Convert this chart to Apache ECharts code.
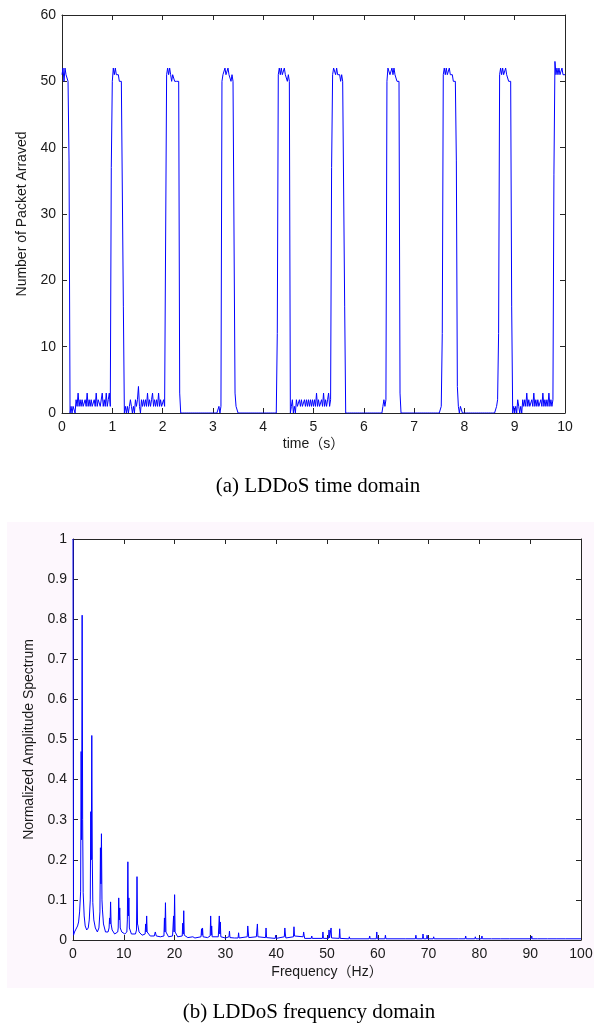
<!DOCTYPE html>
<html>
<head>
<meta charset="utf-8">
<script src="https://cdn.jsdelivr.net/npm/echarts@6/dist/echarts.min.js"></script>
<style>
  html, body { margin: 0; padding: 0; background: #fff; }
  #chart { width: 597px; height: 1025px; }
</style>
</head>
<body>
<div id="chart"></div>
<script>
// (a) packets arrived per 0.02 s slot, 0 s .. 10 s (501 samples, one row per second)
const slotSeconds = 0.02;
const packetsPerSlot = [
  51,52,50,52,51,51,50,38,0,1,0,1,1,0,2,1,3,1,2,1,2,1,1,2,1,3,1,2,1,2,1,1,2,1,3,1,2,2,1,1,3,1,2,1,3,1,2,3,1,37,
  50,52,51,52,51,51,51,50,50,50,50,16,0,1,0,1,0,1,2,1,0,1,0,2,1,2,4,1,0,2,1,2,1,2,1,3,1,2,1,2,3,1,2,1,2,1,3,1,2,1,
  1,2,1,1,51,52,51,52,51,50,51,51,50,50,50,50,50,3,0,0,0,0,0,0,0,0,0,0,0,0,0,0,0,0,0,0,0,0,0,0,0,0,0,0,0,0,0,0,0,0,
  0,0,0,0,0,0,1,0,1,50,51,51,52,51,51,52,51,51,50,51,50,50,3,1,1,0,0,0,0,0,0,0,0,0,0,0,0,0,0,0,0,0,0,0,0,0,0,0,0,0,
  0,0,0,0,0,0,0,0,0,0,0,0,0,0,12,51,52,51,52,51,51,52,51,51,50,51,50,0,1,2,0,1,0,2,1,1,2,1,2,1,1,2,1,2,1,2,1,2,1,2,
  1,2,1,3,1,2,1,1,2,1,3,1,2,1,2,3,1,2,37,51,52,52,51,52,51,51,51,50,51,50,50,16,0,0,0,0,0,0,0,0,0,0,0,0,0,0,0,0,0,0,
  0,0,0,0,0,0,0,0,0,0,0,0,0,0,0,0,0,0,0,1,2,1,2,50,52,52,51,51,52,51,52,51,51,50,50,50,3,0,0,0,0,0,0,0,0,0,0,0,0,0,
  0,0,0,0,0,0,0,0,0,0,0,0,0,0,0,0,0,0,0,0,0,0,0,0,0,0,0,1,12,51,52,51,52,51,51,52,51,51,51,50,50,50,38,4,1,0,1,1,0,0,
  0,0,0,0,0,0,0,0,0,0,0,0,0,0,0,0,0,0,0,0,0,0,0,0,0,0,0,0,0,0,0,0,1,2,12,51,52,51,52,51,51,52,51,51,50,50,50,16,0,1,
  0,1,0,2,1,0,1,0,2,1,2,1,3,1,2,1,1,2,1,3,1,2,1,2,1,1,2,1,3,1,2,1,2,1,3,1,2,1,2,36,53,51,52,51,52,51,51,52,51,51,
  51
];

// (b) normalized amplitude spectrum, [frequency Hz, amplitude]
const spectrum = [
  [0, 1.0], [0.1, 0.012], [0.3, 0.02], [0.5, 0.025], [0.7, 0.03], [0.9, 0.035], [1.1, 0.045], [1.3, 0.07],
  [1.5, 0.12], [1.6, 0.47], [1.7, 0.25], [1.8, 0.81], [1.9, 0.3], [2.0, 0.118], [2.2, 0.06], [2.4, 0.035],
  [2.7, 0.025], [3.0, 0.03], [3.2, 0.05], [3.4, 0.1], [3.5, 0.32], [3.6, 0.2], [3.7, 0.51], [3.8, 0.2],
  [3.9, 0.093], [4.1, 0.05], [4.4, 0.03], [4.8, 0.02], [5.1, 0.03], [5.3, 0.07], [5.4, 0.23], [5.5, 0.14],
  [5.6, 0.265], [5.7, 0.1], [5.8, 0.075], [6.0, 0.04], [6.4, 0.02], [6.9, 0.02], [7.1, 0.03], [7.2, 0.055],
  [7.3, 0.04], [7.4, 0.095], [7.5, 0.04], [7.7, 0.025], [8.2, 0.015], [8.8, 0.02], [8.9, 0.03], [9.0, 0.105],
  [9.1, 0.05], [9.2, 0.08], [9.3, 0.03], [9.6, 0.02], [10.2, 0.015], [10.6, 0.02], [10.7, 0.05], [10.8, 0.195],
  [10.9, 0.06], [11.0, 0.105], [11.1, 0.03], [11.5, 0.015], [12.3, 0.015], [12.5, 0.025], [12.6, 0.158],
  [12.7, 0.04], [12.8, 0.035], [13.0, 0.02], [13.6, 0.012], [14.2, 0.015], [14.3, 0.04], [14.4, 0.02],
  [14.5, 0.06], [14.6, 0.02], [15.2, 0.01], [16.0, 0.01], [16.2, 0.02], [16.4, 0.01], [17.2, 0.008],
  [17.9, 0.01], [18.0, 0.055], [18.1, 0.02], [18.2, 0.093], [18.3, 0.02], [18.8, 0.008], [19.6, 0.01],
  [19.8, 0.06], [19.9, 0.02], [20.0, 0.113], [20.1, 0.02], [20.6, 0.008], [21.5, 0.01], [21.6, 0.042],
  [21.7, 0.015], [21.8, 0.073], [21.9, 0.012], [22.6, 0.006], [23.6, 0.008], [23.8, 0.01], [24.0, 0.005],
  [25.2, 0.008], [25.3, 0.028], [25.4, 0.012], [25.5, 0.03], [25.6, 0.008], [26.5, 0.006], [27.0, 0.01],
  [27.1, 0.06], [27.2, 0.012], [27.3, 0.035], [27.4, 0.008], [28.6, 0.008], [28.8, 0.06], [28.9, 0.015],
  [29.0, 0.045], [29.1, 0.008], [30.0, 0.005], [30.7, 0.008], [30.8, 0.022], [30.9, 0.006], [31.8, 0.005],
  [32.5, 0.005], [32.6, 0.018], [32.7, 0.005], [34.3, 0.008], [34.4, 0.035], [34.5, 0.02], [34.6, 0.006],
  [36.1, 0.008], [36.2, 0.025], [36.3, 0.04], [36.4, 0.008], [37.9, 0.006], [38.0, 0.03], [38.1, 0.006],
  [39.8, 0.004], [39.9, 0.012], [40.0, 0.004], [41.6, 0.008], [41.7, 0.03], [41.8, 0.015], [41.9, 0.005],
  [43.4, 0.008], [43.5, 0.033], [43.6, 0.01], [45.3, 0.008], [45.4, 0.02], [45.5, 0.012], [45.6, 0.004],
  [46.9, 0.004], [47.0, 0.01], [47.1, 0.004], [49.1, 0.004], [49.2, 0.02], [49.3, 0.004], [50.3, 0.004],
  [50.4, 0.025], [50.5, 0.005], [50.7, 0.005], [50.8, 0.03], [50.9, 0.005], [52.4, 0.004], [52.5, 0.028],
  [52.6, 0.004], [54.3, 0.003], [54.4, 0.008], [54.5, 0.003], [58.3, 0.003], [58.4, 0.01], [58.5, 0.003],
  [59.7, 0.003], [59.8, 0.02], [59.9, 0.003], [61.4, 0.003], [61.5, 0.012], [61.6, 0.003], [65.4, 0.003],
  [65.5, 0.005], [65.6, 0.003], [67.4, 0.003], [67.5, 0.012], [67.6, 0.003], [68.8, 0.003], [68.9, 0.015],
  [69.0, 0.003], [69.6, 0.003], [69.7, 0.012], [69.8, 0.003], [70.9, 0.003], [71.0, 0.008], [71.1, 0.003],
  [75.9, 0.003], [76.0, 0.006], [76.1, 0.003], [77.2, 0.003], [77.3, 0.01], [77.4, 0.003], [79.1, 0.003],
  [79.2, 0.008], [79.3, 0.003], [80.4, 0.003], [80.5, 0.01], [80.6, 0.003], [82.4, 0.003], [82.5, 0.005],
  [82.6, 0.003], [84.2, 0.003], [84.3, 0.006], [84.4, 0.003], [85.9, 0.003], [86.0, 0.006], [86.1, 0.003],
  [90.2, 0.003], [90.3, 0.01], [90.4, 0.003], [91.4, 0.003], [91.5, 0.006], [91.6, 0.003], [93.4, 0.003],
  [93.5, 0.005], [93.6, 0.003], [95.1, 0.003], [95.2, 0.004], [95.3, 0.003], [96.9, 0.003], [97.0, 0.005],
  [97.1, 0.003], [100, 0.003]
];

// axis ranges and tick steps
const timeAxis = { min: 0, max: 10, step: 1 };
const packetAxis = { min: 0, max: 60, step: 10 };
const freqAxis = { min: 0, max: 100, step: 10 };
const ampAxis = { min: 0, max: 1, step: 0.1 };

const timeSeries = packetsPerSlot.map((v, i) => [+(i * slotSeconds).toFixed(2), v]);

const AXIS_COLOR = '#262626';
const LABEL_FONT = { fontFamily: 'Liberation Sans, Arial, sans-serif', fontSize: 14, color: '#1a1a1a' };
const NAME_FONT = { fontFamily: 'Liberation Sans, Arial, "Noto Sans CJK SC", sans-serif', fontSize: 14, color: '#1a1a1a' };

function axisPair(kind, gridIndex, range, name, nameGap, labelMargin) {
  const base = {
    gridIndex, type: 'value', min: range.min, max: range.max, interval: range.step,
    splitLine: { show: false },
    axisLine: { show: true, onZero: false, lineStyle: { color: AXIS_COLOR, width: 1 } },
    axisTick: { show: true, inside: true, length: 5, lineStyle: { color: AXIS_COLOR } }
  };
  const main = Object.assign({}, base, {
    position: kind === 'x' ? 'bottom' : 'left',
    name, nameLocation: 'middle', nameGap,
    nameTextStyle: NAME_FONT,
    axisLabel: Object.assign({ margin: labelMargin }, LABEL_FONT)
  });
  const mirror = Object.assign({}, base, {
    position: kind === 'x' ? 'top' : 'right',
    axisLabel: { show: false }
  });
  return [main, mirror];
}

const chart = echarts.init(document.getElementById('chart'), null, { renderer: 'canvas' });

chart.setOption({
  animation: false,
  backgroundColor: '#ffffff',
  graphic: [
    {
      type: 'rect', z: -10, silent: true,
      shape: { x: 7, y: 522, width: 587, height: 466 },
      style: { fill: '#fdf7fd' }
    },
    {
      type: 'text', silent: true,
      style: {
        text: '(a) LDDoS time domain', x: 318, y: 486, align: 'center', verticalAlign: 'middle',
        font: '21px "Liberation Serif", "Times New Roman", serif', fill: '#000'
      }
    },
    {
      type: 'text', silent: true,
      style: {
        text: '(b) LDDoS frequency domain', x: 309, y: 1012, align: 'center', verticalAlign: 'middle',
        font: '21px "Liberation Serif", "Times New Roman", serif', fill: '#000'
      }
    }
  ],
  grid: [
    { left: 62, top: 15, width: 503, height: 398, show: true, backgroundColor: '#ffffff', borderWidth: 0 },
    { left: 73, top: 539, width: 508, height: 401, show: true, backgroundColor: '#ffffff', borderWidth: 0 }
  ],
  xAxis: [
    ...axisPair('x', 0, timeAxis, 'time（s）', 24, 7),
    ...axisPair('x', 1, freqAxis, 'Frequency（Hz）', 25, 7)
  ],
  yAxis: [
    ...axisPair('y', 0, packetAxis, 'Number of Packet Arraved', 33, 6),
    ...axisPair('y', 1, ampAxis, 'Normalized Amplitude Spectrum', 36, 6)
  ],
  series: [
    {
      type: 'line', xAxisIndex: 0, yAxisIndex: 0, data: timeSeries,
      showSymbol: false, lineStyle: { color: '#0000ff', width: 1 }, clip: true
    },
    {
      type: 'line', xAxisIndex: 2, yAxisIndex: 2, data: spectrum,
      showSymbol: false, lineStyle: { color: '#0000ff', width: 1 }, clip: true
    }
  ]
});
</script>
</body>
</html>
